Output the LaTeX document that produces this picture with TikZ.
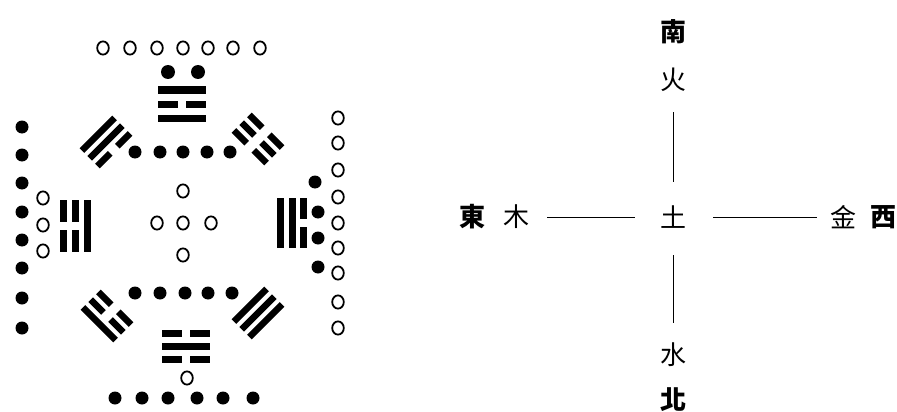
\documentclass[tikz,border=0pt]{standalone}
\usepackage{fontspec}
\newfontfamily\cjk{Noto Sans CJK TC}
\newcommand\tgw{6}
\newcommand\tgg{4}
% one line of a trigram: #1 = 1 solid / 0 broken, #2 = offset, #3 = half length
\newcommand\tgl[3]{%
  \ifnum#1=1
    \fill (-#3,#2-\tgw/2) rectangle (#3,#2+\tgw/2);
  \else
    \fill (-#3,#2-\tgw/2) rectangle (-\tgg,#2+\tgw/2);
    \fill (\tgg,#2-\tgw/2) rectangle (#3,#2+\tgw/2);
  \fi}
% trigram: x, y, angle, half length, spacing, outer, middle, inner
\newcommand\TG[8]{%
  \begin{scope}[shift={(#1,#2)},rotate=#3]
    \tgl{#6}{-#5}{#4}
    \tgl{#7}{0}{#4}
    \tgl{#8}{#5}{#4}
  \end{scope}}
\begin{document}
\begin{tikzpicture}[x=1pt,y=-1pt,
  dotf/.style={fill=black},
  ringd/.style={draw=black,line width=1.8pt},
  elem/.style={font=\cjk\fontsize{26}{26}\selectfont,inner sep=0pt,minimum size=26pt},
  dirn/.style={font=\cjk\bfseries\fontsize{26}{26}\selectfont,inner sep=0pt,minimum size=26pt},
  link/.style={draw=black,line width=1pt}]
\useasboundingbox[fill=white] (0,0) rectangle (897,412);

% ---------- He Tu / Later Heaven diagram ----------
% top row of open circles (7)
\foreach \x in {103,130,157,183,208,233,260} \draw[ringd] (\x,48) ellipse (5.8 and 6.6);
% two dots above Li
\foreach \x in {168,198} \fill[dotf] (\x,72) circle (7);
% upper row of dots (5)
\foreach \x in {135,160,183,207,230} \fill[dotf] (\x,152) circle (6.5);
% lower row of dots (5)
\foreach \x in {135,160,185,208,232} \fill[dotf] (\x,293) circle (6.5);
% bottom row of dots (6)
\foreach \x in {115,142,168,197,223,253} \fill[dotf] (\x,398) circle (6.5);
% ring above bottom row
\draw[ringd] (187,378) ellipse (5.8 and 6.6);
% left column of dots (8)
\foreach \y in {127,155,183,212,240,268,298,328} \fill[dotf] (22,\y) circle (6.5);
% left rings (3)
\foreach \y in {198,225,251} \draw[ringd] (43,\y) ellipse (5.8 and 6.6);
% right column of rings (9)
\foreach \y in {118,143,170,197,223,248,273,302,328} \draw[ringd] (338,\y) ellipse (5.8 and 6.6);
% right dots (4)
\fill[dotf] (315,182) circle (6.5);
\foreach \y in {212,238,267} \fill[dotf] (318,\y) circle (6.5);
% centre five rings
\foreach \p in {(183,191),(157,223),(183,223),(211,223),(183,255)} \draw[ringd] \p ellipse (5.8 and 6.6);

% trigrams (outer, middle, inner; 1 = solid)
\renewcommand\tgw{7}
\TG{182}{104}{0}{24}{14}{1}{0}{1}      % Li, top
\TG{186}{346}{180}{24}{13}{0}{1}{0}    % Kan, bottom
\TG{75}{226}{90}{26}{12}{0}{0}{1}      % Zhen, left
\TG{292}{223}{-90}{25}{11.5}{0}{1}{1}  % Dui, right
\renewcommand\tgw{6.5}
\renewcommand\tgg{5}
\TG{106}{142}{45}{23}{11}{1}{1}{0}     % Xun, upper left
\TG{258}{139}{-45}{23}{11}{0}{0}{0}    % Kun, upper right
\TG{107}{316}{135}{23}{11}{1}{0}{0}    % Gen, lower left
\TG{258}{313}{-135}{23}{11}{1}{1}{1}   % Qian, lower right

% ---------- Five phases cross ----------
\node[dirn] (south) at (673,32) {南};
\node[elem] (fire) at (673,80) {火};
\node[elem] (earth) at (673,217) {土};
\node[elem] (water) at (673,355) {水};
\node[dirn] (north) at (673,400) {北};
\node[dirn] (east) at (472,217) {東};
\node[elem] (wood) at (516,217) {木};
\node[elem] (metal) at (843,217) {金};
\node[dirn] (west) at (883,217) {西};

\draw[link,shorten <=19pt,shorten >=22pt] (fire.south) -- (earth.north);
\draw[link,shorten <=25pt,shorten >=19pt] (earth.south) -- (water.north);
\draw[link,shorten <=18pt,shorten >=25pt] (wood.east) -- (earth.west);
\draw[link,shorten <=27pt,shorten >=13pt] (earth.east) -- (metal.west);
\end{tikzpicture}
\end{document}
